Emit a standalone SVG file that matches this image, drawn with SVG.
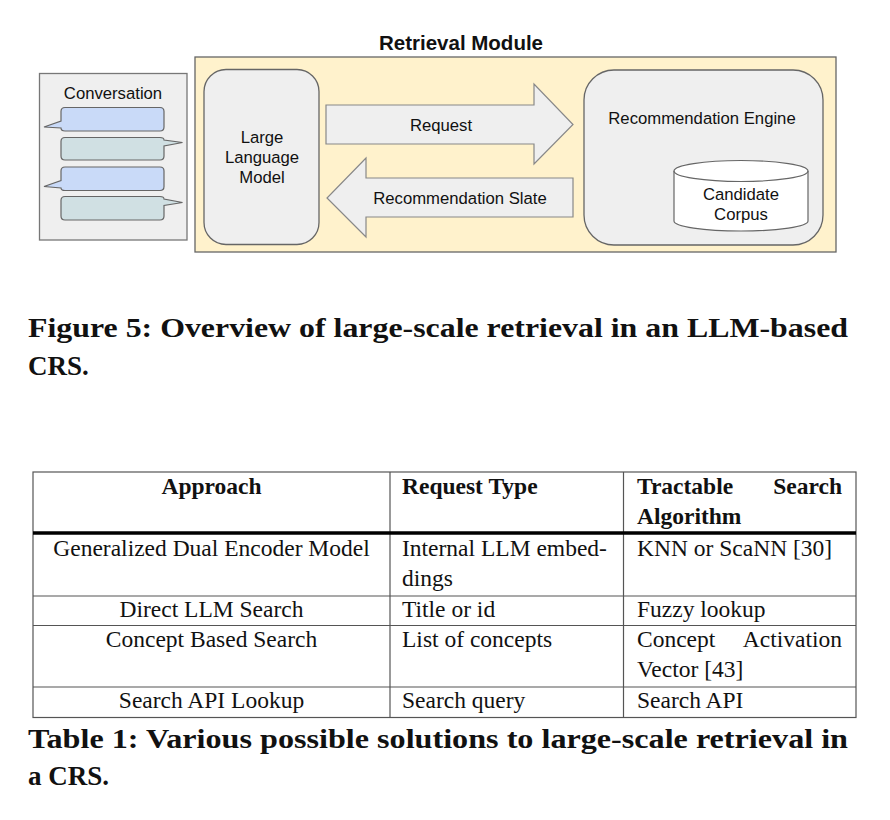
<svg xmlns="http://www.w3.org/2000/svg" width="890" height="820" viewBox="0 0 890 820">
<style>
.sans{font-family:"Liberation Sans",Arial,sans-serif;font-size:16.7px;fill:#111;}
.serif{font-family:"Liberation Serif","Times New Roman",serif;font-size:23.5px;fill:#111;}
.bold{font-weight:bold;}
.cap{font-family:"Liberation Serif","Times New Roman",serif;font-size:27px;font-weight:bold;fill:#111;}
.gbox{fill:#efefef;stroke:#666;stroke-width:1.3;}
.blue{fill:#c9daf8;stroke:#666;stroke-width:1.2;}
.green{fill:#d0e0e3;stroke:#666;stroke-width:1.2;}
.arrow{fill:#efefef;stroke:#888;stroke-width:1.2;}
.tl{stroke:#555;stroke-width:1.2;fill:none;}
</style>
<rect width="890" height="820" fill="#fff"/>

<g id="retrieval-module">
<rect x="195" y="57" width="641" height="195" fill="#fff2cc" stroke="#666" stroke-width="1.3"/>
<text class="sans bold" x="461" y="49.5" text-anchor="middle" style="font-size:20.5px">Retrieval Module</text>
</g>

<g id="conversation">
<rect class="gbox" x="39.5" y="73.5" width="147.5" height="166.5" style="stroke:#777"/>
<text class="sans" x="113" y="99" text-anchor="middle">Conversation</text>
<path class="blue" d="M65,107.5 H160 Q164,107.5 164,111.5 V127 Q164,131 160,131 H65 Q61,131 61,128 L44,127 L61,121 V111.5 Q61,107.5 65,107.5 Z"/>
<path class="green" d="M65,137.5 H160 Q164,137.5 164,140 L182.5,142.5 L164,146 V156 Q164,160 160,160 H65 Q61,160 61,156 V141.5 Q61,137.5 65,137.5 Z"/>
<path class="blue" d="M65,167 H160 Q164,167 164,171 V186.5 Q164,190.5 160,190.5 H65 Q61,190.5 61,188 L44,186.5 L61,180.5 V171 Q61,167 65,167 Z"/>
<path class="green" d="M65,196.5 H160 Q164,196.5 164,199 L182.5,202.5 L164,205.5 V216 Q164,220 160,220 H65 Q61,220 61,216 V200.5 Q61,196.5 65,196.5 Z"/>
</g>

<g id="llm">
<rect class="gbox" x="204" y="69.5" width="115" height="175" rx="22" ry="22"/>
<text class="sans" x="262" y="143" text-anchor="middle">Large</text>
<text class="sans" x="262" y="163" text-anchor="middle">Language</text>
<text class="sans" x="262" y="183" text-anchor="middle">Model</text>
</g>

<g id="recommendation-engine">
<rect class="gbox" x="584" y="70" width="239" height="175" rx="30" ry="30"/>
<text class="sans" x="702" y="124" text-anchor="middle">Recommendation Engine</text>
</g>

<g id="candidate-corpus">
<path d="M674,171 A67,10.5 0 0 1 808,171 L808,221 A67,10 0 0 1 674,221 Z" fill="#fff" stroke="#666" stroke-width="1.2"/>
<path d="M674,171 A67,10.5 0 0 0 808,171" fill="none" stroke="#666" stroke-width="1.2"/>
<text class="sans" x="741" y="200" text-anchor="middle">Candidate</text>
<text class="sans" x="741" y="220" text-anchor="middle">Corpus</text>
</g>

<g id="connectors">
<g id="request">
<polygon class="arrow" points="326,105 534,105 534,84 573,124.5 534,164 534,144 326,144"/>
<text class="sans" x="441" y="130.5" text-anchor="middle">Request</text>
</g>
<g id="recommendation-slate">
<polygon class="arrow" points="573,178 366,178 366,158 327,198 366,237 366,217 573,217"/>
<text class="sans" x="460" y="204" text-anchor="middle">Recommendation Slate</text>
</g>
</g>

<g id="figure-caption">
<text class="cap" x="28" y="337" textLength="820" lengthAdjust="spacingAndGlyphs">Figure 5: Overview of large-scale retrieval in an LLM-based</text>
<text class="cap" x="28" y="375">CRS.</text>
</g>

<g id="table">
<rect x="33" y="472" width="823" height="245.5" fill="none" stroke="#555" stroke-width="1.2"/>
<line class="tl" x1="390" y1="472" x2="390" y2="717.5"/>
<line class="tl" x1="623.5" y1="472" x2="623.5" y2="717.5"/>
<line x1="33" y1="533" x2="856" y2="533" stroke="#000" stroke-width="3.5"/>
<line class="tl" x1="33" y1="596" x2="856" y2="596"/>
<line class="tl" x1="33" y1="625.5" x2="856" y2="625.5"/>
<line class="tl" x1="33" y1="687" x2="856" y2="687"/>

<text class="serif bold" x="211.5" y="494" text-anchor="middle">Approach</text>
<text class="serif bold" x="402" y="494">Request Type</text>
<text class="serif bold" x="637" y="494">Tractable</text>
<text class="serif bold" x="842" y="494" text-anchor="end">Search</text>
<text class="serif bold" x="637" y="524">Algorithm</text>

<text class="serif" x="211.5" y="556" text-anchor="middle">Generalized Dual Encoder Model</text>
<text class="serif" x="402" y="556">Internal LLM embed-</text>
<text class="serif" x="402" y="586">dings</text>
<text class="serif" x="637" y="556">KNN or ScaNN [30]</text>

<text class="serif" x="211.5" y="617" text-anchor="middle">Direct LLM Search</text>
<text class="serif" x="402" y="617">Title or id</text>
<text class="serif" x="637" y="617">Fuzzy lookup</text>

<text class="serif" x="211.5" y="647" text-anchor="middle">Concept Based Search</text>
<text class="serif" x="402" y="647">List of concepts</text>
<text class="serif" x="637" y="647">Concept</text>
<text class="serif" x="842" y="647" text-anchor="end">Activation</text>
<text class="serif" x="637" y="677">Vector [43]</text>

<text class="serif" x="211.5" y="708" text-anchor="middle">Search API Lookup</text>
<text class="serif" x="402" y="708">Search query</text>
<text class="serif" x="637" y="708">Search API</text>
</g>

<g id="table-caption">
<text class="cap" x="28" y="748" textLength="820" lengthAdjust="spacingAndGlyphs">Table 1: Various possible solutions to large-scale retrieval in</text>
<text class="cap" x="28" y="785">a CRS.</text>
</g>
</svg>
